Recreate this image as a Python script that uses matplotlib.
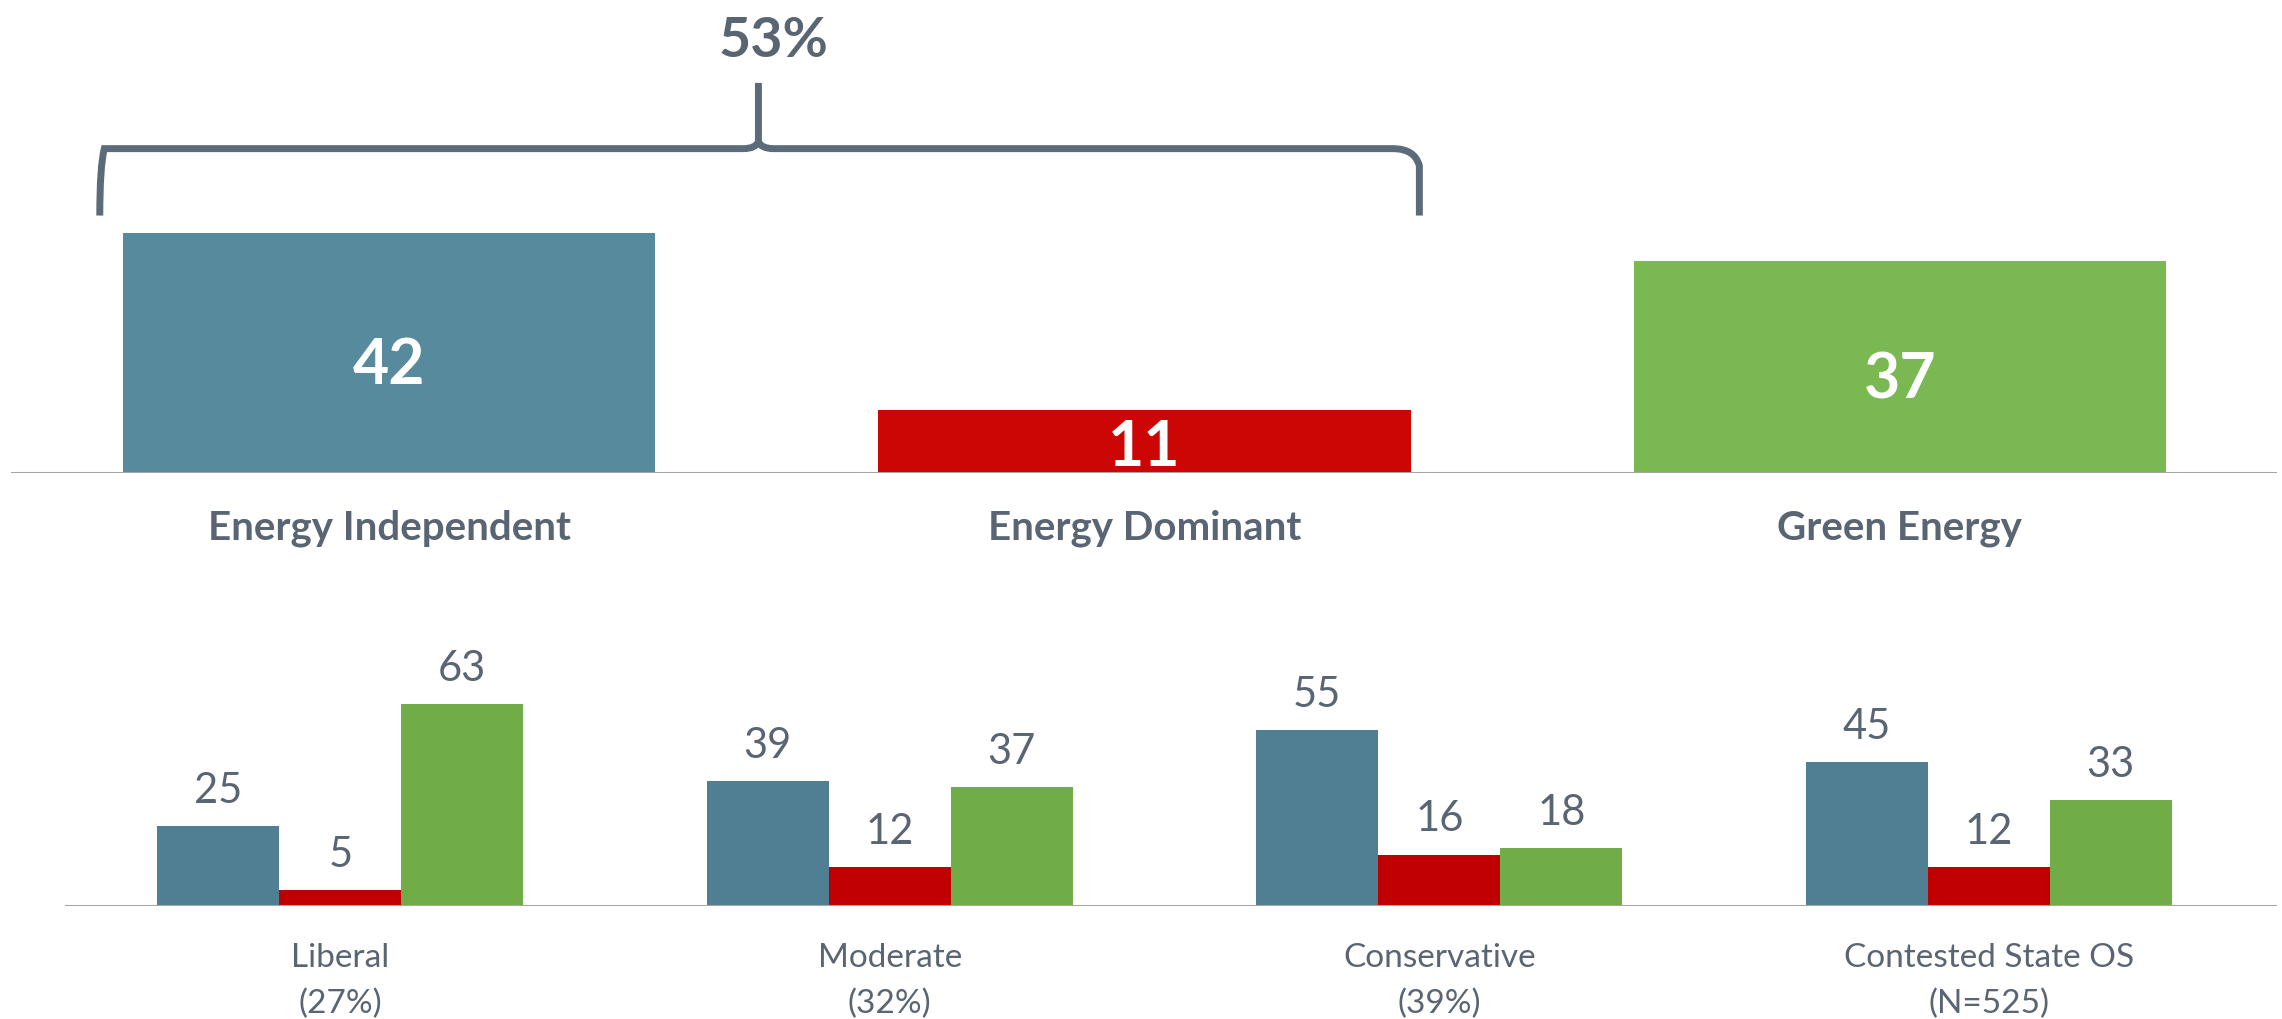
import matplotlib.pyplot as plt
from matplotlib.path import Path
from matplotlib.patches import PathPatch

plt.rcParams['font.family'] = ['Lato', 'DejaVu Sans']

# Top panel data
top_labels = ['Energy Independent', 'Energy Dominant', 'Green Energy']
top_values = [42, 11, 37]
top_colors = ['#588a9e', '#cc0605', '#7ab851']
bracket_total = '53%'

# Bottom panel data
groups = ['Liberal', 'Moderate', 'Conservative', 'Contested State OS']
group_shares = ['(27%)', '(32%)', '(39%)', '(N=525)']
independent = [25, 39, 55, 45]
dominant = [5, 12, 16, 12]
green = [63, 37, 18, 33]
bottom_colors = ['#507f93', '#c00000', '#70ad47']

text_color = '#5a6573'
axis_color = '#a6a6a6'

fig = plt.figure(figsize=(22.82, 10.19), dpi=100)

# ---- top panel ----
ax1 = fig.add_axes([0.005, 0.536, 0.993, 0.464])
xs = list(range(len(top_values)))
ax1.bar(xs, top_values, width=0.705, color=top_colors)
for x, v in zip(xs, top_values):
    yv = v / 2 - 2.3 if v > 20 else v / 2 - 1.2
    ax1.text(x, yv, str(v), ha='center', va='center', color='white',
             fontsize=45, fontweight='bold')
for x, lab in zip(xs, top_labels):
    ax1.text(x, -9.7, lab, ha='center', va='center', color=text_color,
             fontsize=29, fontweight='bold', clip_on=False)
ax1.set_xlim(-0.5, 2.5)
ax1.set_ylim(0, 82.7)
ax1.axhline(0, color=axis_color, lw=2.2)
ax1.axis('off')

# curly bracket over the first two bars
xl, xr, xc = -0.383, 1.364, 0.489
yb, yh, yp = 45, 56.7, 68.2
verts = [(xl, yb), (xl, yh - 3), (xl + 0.006, yh), (xl + 0.035, yh),
         (xc - 0.02, yh), (xc - 0.004, yh), (xc, yh + 1.2), (xc, yp),
         (xc, yh + 1.2), (xc + 0.004, yh), (xc + 0.02, yh),
         (xr - 0.035, yh), (xr - 0.006, yh), (xr, yh - 3), (xr, yb)]
codes = [Path.MOVETO, Path.CURVE3, Path.CURVE3, Path.LINETO,
         Path.LINETO, Path.CURVE3, Path.CURVE3, Path.LINETO,
         Path.MOVETO, Path.CURVE3, Path.CURVE3,
         Path.LINETO, Path.CURVE3, Path.CURVE3, Path.LINETO]
ax1.add_patch(PathPatch(Path(verts, codes), fill=False, edgecolor='#5b6b7a',
                        lw=5, capstyle='butt', clip_on=False))
ax1.text(xc + 0.02, 75.6, bracket_total, ha='center', va='center',
         color=text_color, fontsize=40, fontweight='bold')

# ---- bottom panel ----
ax2 = fig.add_axes([0.0287, 0.111, 0.969, 0.275])
w = 0.222
gx = list(range(len(groups)))
for off, vals, col in zip([-w, 0, w], [independent, dominant, green], bottom_colors):
    pos = [g + off for g in gx]
    ax2.bar(pos, vals, width=w, color=col)
    for p, v in zip(pos, vals):
        ax2.text(p, v + 11, str(v), ha='center', va='center', color=text_color,
                 fontsize=30)
for g, lab, share in zip(gx, groups, group_shares):
    ax2.text(g, -16.4, lab, ha='center', va='center', color=text_color,
             fontsize=24, clip_on=False)
    ax2.text(g, -30.5, share, ha='center', va='center', color=text_color,
             fontsize=24, clip_on=False)
ax2.set_xlim(-0.5, 3.524)
ax2.set_ylim(0, 87.5)
ax2.axhline(0, color=axis_color, lw=2.2)
ax2.axis('off')

fig.savefig('out.png', dpi=100)
